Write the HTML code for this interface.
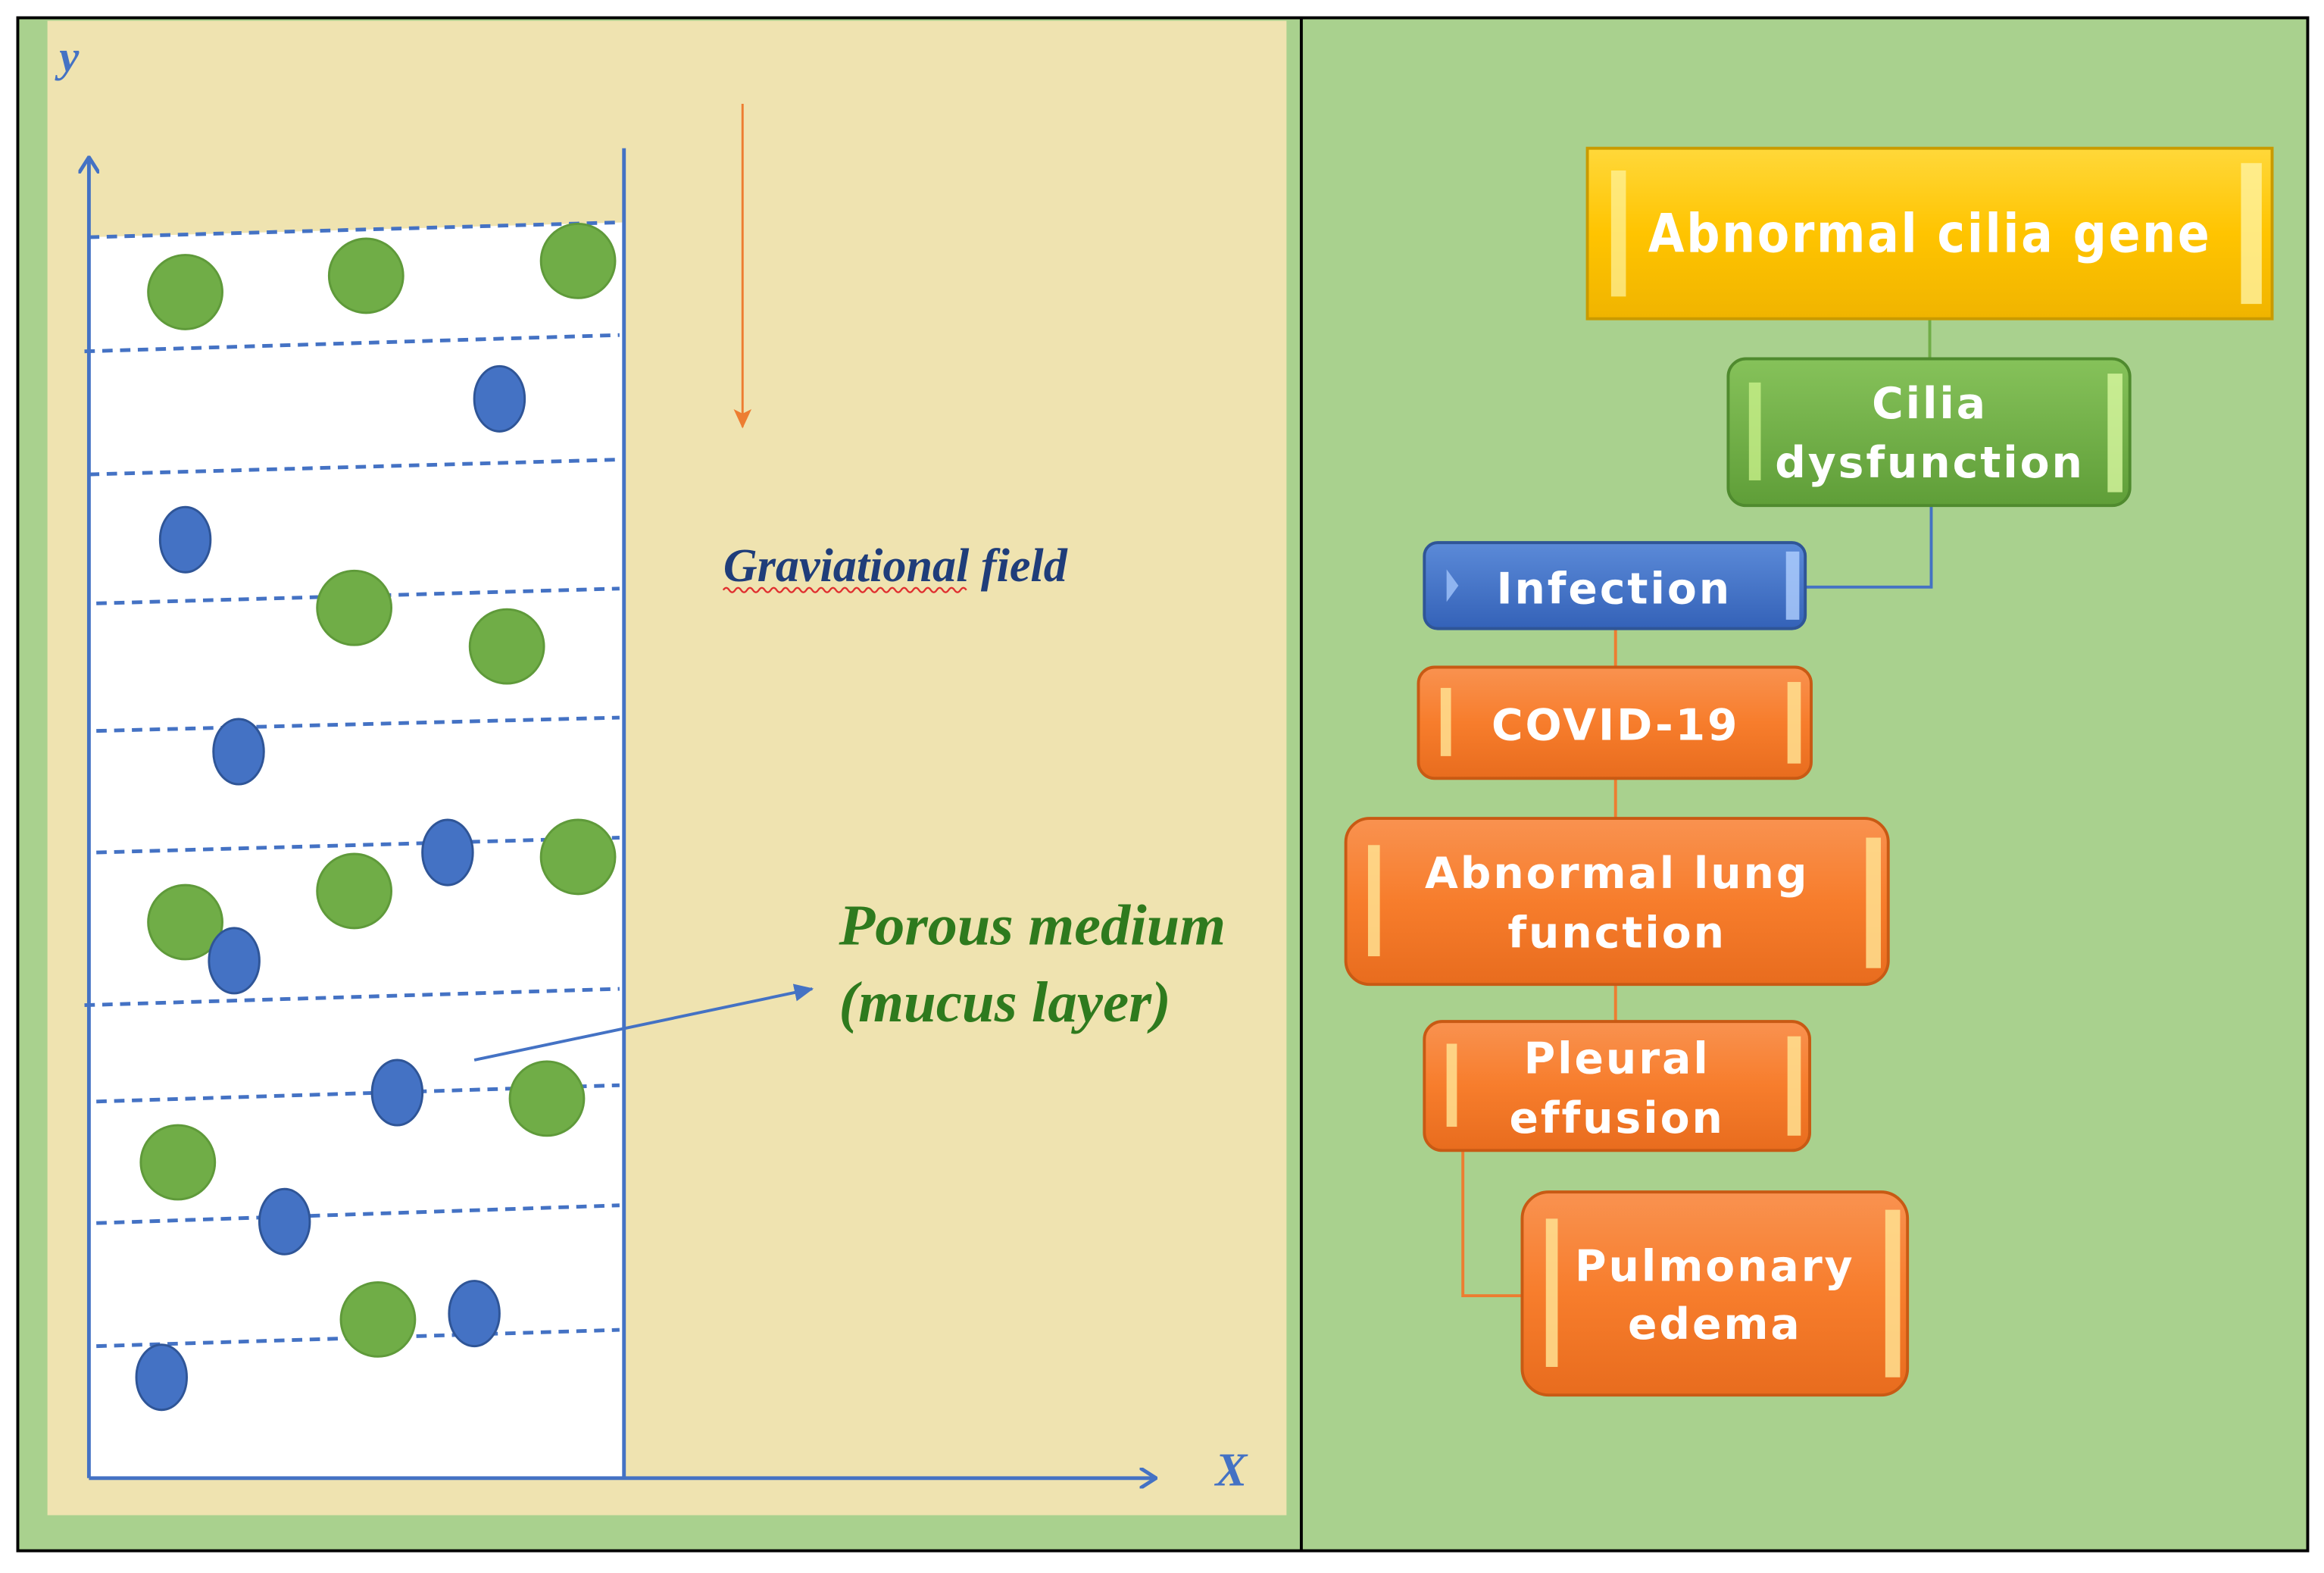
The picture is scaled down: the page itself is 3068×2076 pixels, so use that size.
<!DOCTYPE html>
<html><head><meta charset="utf-8"><style>
html,body{margin:0;padding:0;background:#fff;width:3068px;height:2076px;overflow:hidden}
svg{display:block}
.b{font-family:"DejaVu Sans","Liberation Sans",sans-serif;font-weight:bold;fill:#fff;letter-spacing:1.5px}
</style></head><body>
<svg width="3068" height="2076" viewBox="0 0 1568 1061" xmlns="http://www.w3.org/2000/svg">
<defs>
<linearGradient id="gy" x1="0" y1="0" x2="0" y2="1"><stop offset="0" stop-color="#ffd83a"/><stop offset="0.5" stop-color="#ffc400"/><stop offset="1" stop-color="#f0b400"/></linearGradient>
<linearGradient id="gg" x1="0" y1="0" x2="0" y2="1"><stop offset="0" stop-color="#86c25a"/><stop offset="1" stop-color="#5f9e38"/></linearGradient>
<linearGradient id="gb" x1="0" y1="0" x2="0" y2="1"><stop offset="0" stop-color="#5b8ad8"/><stop offset="1" stop-color="#3462b8"/></linearGradient>
<linearGradient id="go" x1="0" y1="0" x2="0" y2="1"><stop offset="0" stop-color="#f99250"/><stop offset="0.5" stop-color="#f77d2c"/><stop offset="1" stop-color="#e86c1e"/></linearGradient>
<marker id="ab" markerWidth="12" markerHeight="14" refX="11" refY="7" orient="auto" markerUnits="userSpaceOnUse"><path d="M0,0 L11,7 L0,14" fill="none" stroke="#4472c4" stroke-width="2.5"/></marker>
<marker id="af" markerWidth="14" markerHeight="14" refX="12" refY="6" orient="auto" markerUnits="userSpaceOnUse"><path d="M0,0 L13,6 L0,12 z" fill="#4472c4"/></marker>
<marker id="ao" markerWidth="14" markerHeight="12" refX="12" refY="6" orient="auto" markerUnits="userSpaceOnUse"><path d="M0,0 L13,6 L0,12 L3,6 z" fill="#ed7d31"/></marker>
</defs>
<rect x="0" y="0" width="1568" height="1061" fill="#fff"/>
<rect x="12" y="12" width="1545" height="1034" fill="#a9d18e" stroke="#000" stroke-width="2"/>
<line x1="878" y1="12" x2="878" y2="1046" stroke="#000" stroke-width="2"/>
<rect x="32" y="14" width="836" height="1008" fill="#efe3b0"/>
<polygon points="60,160 421,150 421,997 60,997" fill="#fff"/>
<g stroke="#4472c4" stroke-width="2.5" stroke-dasharray="7,5" fill="none">
<line x1="60" y1="160" x2="418" y2="150"/><line x1="57" y1="237" x2="418" y2="226"/>
<line x1="60" y1="320" x2="418" y2="310"/><line x1="65" y1="407" x2="418" y2="397"/>
<line x1="65" y1="493" x2="418" y2="484"/><line x1="65" y1="575" x2="418" y2="565"/>
<line x1="57" y1="678" x2="418" y2="667"/><line x1="65" y1="743" x2="418" y2="732"/>
<line x1="65" y1="825" x2="418" y2="813"/><line x1="65" y1="908" x2="418" y2="897"/>
</g>
<g fill="#70ad47" stroke="#5f9a3a" stroke-width="1.5">
<ellipse cx="125" cy="197" rx="25" ry="25"/><ellipse cx="247" cy="186" rx="25" ry="25"/><ellipse cx="390" cy="176" rx="25" ry="25"/>
<ellipse cx="239" cy="410" rx="25" ry="25"/><ellipse cx="342" cy="436" rx="25" ry="25"/><ellipse cx="239" cy="601" rx="25" ry="25"/>
<ellipse cx="390" cy="578" rx="25" ry="25"/><ellipse cx="125" cy="622" rx="25" ry="25"/><ellipse cx="369" cy="741" rx="25" ry="25"/>
<ellipse cx="120" cy="784" rx="25" ry="25"/><ellipse cx="255" cy="890" rx="25" ry="25"/>
</g>
<g fill="#4472c4" stroke="#2f5597" stroke-width="1.5">
<ellipse cx="337" cy="269" rx="17" ry="22"/><ellipse cx="125" cy="364" rx="17" ry="22"/><ellipse cx="161" cy="507" rx="17" ry="22"/>
<ellipse cx="302" cy="575" rx="17" ry="22"/><ellipse cx="158" cy="648" rx="17" ry="22"/><ellipse cx="268" cy="737" rx="17" ry="22"/>
<ellipse cx="192" cy="824" rx="17" ry="22"/><ellipse cx="320" cy="886" rx="17" ry="22"/><ellipse cx="109" cy="929" rx="17" ry="22"/>
</g>
<g stroke="#4472c4" stroke-width="2.5" fill="none">
<line x1="60" y1="997" x2="60" y2="106" marker-end="url(#ab)"/>
<line x1="421" y1="100" x2="421" y2="997"/>
<line x1="60" y1="997" x2="780" y2="997" marker-end="url(#ab)"/>
<line x1="320" y1="715" x2="548" y2="667" stroke-width="2" marker-end="url(#af)"/>
</g>
<line x1="501" y1="70" x2="501" y2="288" stroke="#ed7d31" stroke-width="1.5" marker-end="url(#ao)"/>
<text x="40" y="48" font-family="Liberation Serif,serif" font-style="italic" font-weight="bold" font-size="30" fill="#4472c4">y</text>
<text x="820" y="1002" font-family="Liberation Serif,serif" font-style="italic" font-weight="bold" font-size="32" fill="#4472c4">X</text>
<text x="488" y="392" font-family="Liberation Serif,serif" font-style="italic" font-weight="bold" font-size="32" fill="#1f3d7a" textLength="232" lengthAdjust="spacingAndGlyphs">Graviational field</text>
<path d="M488,398 q2,-3 4,0 t4,0 t4,0 t4,0 t4,0 t4,0 t4,0 t4,0 t4,0 t4,0 t4,0 t4,0 t4,0 t4,0 t4,0 t4,0 t4,0 t4,0 t4,0 t4,0 t4,0 t4,0 t4,0 t4,0 t4,0 t4,0 t4,0 t4,0 t4,0 t4,0 t4,0 t4,0 t4,0 t4,0 t4,0 t4,0 t4,0 t4,0 t4,0 t4,0 t4,0" fill="none" stroke="#e03030" stroke-width="1.2"/>
<text x="566" y="637" font-family="Liberation Serif,serif" font-style="italic" font-weight="bold" font-size="39" fill="#2e7a1e" textLength="261" lengthAdjust="spacingAndGlyphs">Porous medium</text>
<text x="566" y="689" font-family="Liberation Serif,serif" font-style="italic" font-weight="bold" font-size="39" fill="#2e7a1e" textLength="224" lengthAdjust="spacingAndGlyphs">(mucus layer)</text>
<!-- connectors -->
<line x1="1302" y1="215" x2="1302" y2="242" stroke="#70ad47" stroke-width="2"/>
<polyline points="1303,341 1303,396 1218,396" fill="none" stroke="#4472c4" stroke-width="2"/>
<line x1="1090" y1="424" x2="1090" y2="552" stroke="#ed7d31" stroke-width="2"/>
<line x1="1090" y1="664" x2="1090" y2="689" stroke="#ed7d31" stroke-width="2"/>
<polyline points="987,776 987,874 1027,874" fill="none" stroke="#ed7d31" stroke-width="2"/>
<!-- boxes -->
<rect x="1071" y="100" width="462" height="115" fill="url(#gy)" stroke="#c99a00" stroke-width="2"/>
<rect x="1087" y="115" width="10" height="85" fill="#fff3a0" opacity="0.7"/><rect x="1512" y="110" width="14" height="95" fill="#fff3a0" opacity="0.8"/>
<text class="b" x="1302" y="170" font-size="36" text-anchor="middle" textLength="380" lengthAdjust="spacingAndGlyphs">Abnormal cilia gene</text>
<rect x="1166" y="242" width="271" height="99" rx="12" fill="url(#gg)" stroke="#4f8a2e" stroke-width="2"/>
<rect x="1180" y="258" width="8" height="66" fill="#c8f08a" opacity="0.8"/><rect x="1422" y="252" width="10" height="80" fill="#d8f8a0" opacity="0.8"/>
<text class="b" x="1302" y="282" font-size="29" text-anchor="middle">Cilia</text>
<text class="b" x="1302" y="322" font-size="29" text-anchor="middle">dysfunction</text>
<rect x="961" y="366" width="257" height="58" rx="9" fill="url(#gb)" stroke="#2f5597" stroke-width="2"/>
<rect x="1205" y="372" width="9" height="46" fill="#b0d0ff" opacity="0.8"/><path d="M976,384 l8,11 l-8,11 z" fill="#8fb4f0"/>
<text class="b" x="1089" y="407" font-size="29" text-anchor="middle">Infection</text>
<g stroke="#c85a14" stroke-width="2" fill="url(#go)">
<rect x="957" y="450" width="265" height="75" rx="11"/>
<rect x="908" y="552" width="366" height="112" rx="16"/>
<rect x="961" y="689" width="260" height="87" rx="12"/>
<rect x="1027" y="804" width="260" height="137" rx="18"/>
</g>
<g fill="#ffe090" opacity="0.85">
<rect x="972" y="464" width="7" height="46"/><rect x="1206" y="460" width="9" height="55"/>
<rect x="923" y="570" width="8" height="75"/><rect x="1259" y="565" width="10" height="88"/>
<rect x="976" y="704" width="7" height="56"/><rect x="1206" y="699" width="9" height="67"/>
<rect x="1043" y="822" width="8" height="100"/><rect x="1272" y="816" width="10" height="113"/>
</g>
<text class="b" x="1090" y="499" font-size="29" text-anchor="middle">COVID-19</text>
<text class="b" x="1091" y="599" font-size="29" text-anchor="middle">Abnormal lung</text>
<text class="b" x="1091" y="639" font-size="29" text-anchor="middle">function</text>
<text class="b" x="1091" y="724" font-size="29" text-anchor="middle">Pleural</text>
<text class="b" x="1091" y="764" font-size="29" text-anchor="middle">effusion</text>
<text class="b" x="1157" y="864" font-size="29" text-anchor="middle">Pulmonary</text>
<text class="b" x="1157" y="903" font-size="29" text-anchor="middle">edema</text>
</svg>
</body></html>
